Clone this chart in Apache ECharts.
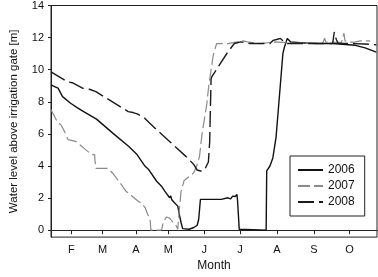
<!DOCTYPE html>
<html>
<head>
<meta charset="utf-8">
<script src="https://cdn.jsdelivr.net/npm/echarts@6/dist/echarts.min.js"></script>
<style>
  html, body { margin: 0; padding: 0; background: #fff; }
  #chart { width: 378px; height: 277px; }
</style>
</head>
<body>
<div id="chart"></div>
<script>
// x is day of year, y is water level [m]
const monthTickDays = [46, 73, 102, 130, 161, 192, 224, 256, 287];
const monthTickLabels = ["F", "M", "A", "M", "J", "J", "A", "S", "O"];
const levelTicks = [0, 2, 4, 6, 8, 10, 12, 14];

const level2006 = [
  [28.4, 9.05], [31.5, 8.95], [32.5, 9.0], [34.5, 8.85], [38.4, 8.32], [45.4, 7.91],
  [51.0, 7.64], [56.7, 7.39], [67.8, 6.92], [81.9, 6.05], [95.8, 5.22], [102.9, 4.71],
  [109.9, 3.98], [111.5, 3.88], [113.0, 3.78], [113.5, 3.9], [114.2, 3.7], [119.9, 3.05],
  [124.1, 2.74], [125.6, 2.85], [126.9, 2.43], [131.1, 2.02], [132.0, 2.15], [133.0, 1.9],
  [135.3, 1.71], [138.2, 1.5], [139.5, 0.99], [141.0, 0.48], [142.4, 0.1], [148.0, 0.06],
  [152.1, 0.17], [155.0, 0.31], [156.3, 0.68], [157.8, 1.92], [159.2, 1.96], [176.0, 1.92],
  [181.5, 2.02], [184.0, 1.95], [185.7, 2.12], [187.2, 2.23], [188.0, 2.1], [189.4, 2.23],
  [189.9, 1.9], [191.4, 0.06], [214.7, 0.0], [215.2, 3.7], [218.0, 4.0], [220.5, 4.5],
  [223.3, 5.8], [225.0, 7.3], [227.5, 9.5], [229.2, 11.0], [230.5, 11.4], [233.0, 11.95],
  [236.0, 11.73], [244.3, 11.68], [258.3, 11.63], [272.3, 11.63], [291.9, 11.52],
  [300.4, 11.36], [310.1, 11.1]
];

const level2007 = [
  [28.4, 7.5], [34.5, 6.67], [37.0, 6.57], [40.1, 6.15], [41.2, 6.2], [43.2, 5.64],
  [44.3, 5.6], [49.9, 5.53], [58.4, 5.02], [63.6, 4.71], [66.2, 4.71], [66.4, 4.4],
  [67.3, 3.85], [77.8, 3.85], [82.5, 3.5], [90.3, 2.74], [93.3, 2.43], [98.7, 2.12],
  [103.1, 1.85], [107.1, 1.65], [109.9, 1.41], [111.5, 1.1], [113.0, 0.85], [114.3, 0.6],
  [114.9, 0.0], [124.1, 0.0], [125.6, 0.5], [128.3, 0.82], [131.1, 0.75], [134.0, 0.5],
  [136.8, 0.27], [138.2, 0.06], [139.5, 1.3], [141.0, 2.4], [143.7, 3.1], [149.4, 3.4],
  [152.1, 3.6], [155.0, 4.1], [157.0, 4.6], [159.2, 6.0], [163.4, 7.9], [165.0, 9.0],
  [168.9, 10.9], [171.8, 11.63], [181.5, 11.63], [189.9, 11.73], [192.8, 11.83],
  [198.4, 11.73], [209.6, 11.63], [222.2, 11.73], [240.0, 11.65], [260.0, 11.65],
  [264.0, 11.7], [265.3, 11.96], [266.5, 11.7], [280.0, 11.7], [282.1, 12.27], [283.0, 11.8],
  [290.0, 11.7], [296.4, 11.8], [304.8, 11.8]
];

const level2008 = [
  [28.4, 9.87], [42.6, 9.25], [46.8, 9.19], [56.1, 8.84], [61.7, 8.78], [67.3, 8.63],
  [81.3, 8.01], [95.3, 7.39], [99.5, 7.33], [103.1, 7.25], [109.5, 6.98], [119.9, 6.26],
  [131.1, 5.53], [145.2, 4.6], [152.1, 4.09], [155.0, 3.75], [159.0, 3.67], [162.0, 3.85],
  [164.7, 4.25], [165.8, 5.5], [167.0, 9.4], [167.6, 9.56], [170.4, 9.87], [181.5, 11.1],
  [187.2, 11.63], [192.8, 11.73], [201.2, 11.63], [218.0, 11.63], [220.8, 11.83],
  [224.5, 11.9], [227.0, 11.95], [230.3, 11.73], [233.0, 11.63], [272.3, 11.63],
  [273.7, 12.35], [275.4, 11.9], [277.0, 11.65], [300.0, 11.6], [310.1, 11.55]
];

const font = "Liberation Sans, Arial, sans-serif";
const chart = echarts.init(document.getElementById("chart"), null, { renderer: "canvas" });

const lineSeries = (name, data, color, width, dash) => ({
  name,
  type: "line",
  data,
  symbol: "none",
  showSymbol: false,
  animation: false,
  lineStyle: { color, width, type: dash },
  itemStyle: { color }
});

chart.setOption({
  backgroundColor: "#fff",
  animation: false,
  grid: {
    left: 41, right: 1, top: 5, bottom: 39,
    show: true, borderColor: "#222", borderWidth: 1
  },
  legend: {
    orient: "vertical",
    left: 290,
    top: 156,
    padding: [8, 10, 8, 7],
    itemWidth: 25,
    itemHeight: 10,
    itemGap: 4,
    borderColor: "#222",
    borderWidth: 1,
    itemStyle: { opacity: 0 },
    textStyle: { fontFamily: font, fontSize: 12, color: "#111" },
    data: ["2006", "2007", "2008"]
  },
  xAxis: {
    type: "value",
    min: 28.4,
    max: 310.7,
    name: "Month",
    nameLocation: "middle",
    nameGap: 16,
    nameTextStyle: { fontFamily: font, fontSize: 12, color: "#111" },
    splitLine: { show: false },
    axisLine: { lineStyle: { color: "#222", width: 1 } },
    axisTick: { length: 4, customValues: monthTickDays, lineStyle: { color: "#222" } },
    axisLabel: {
      customValues: monthTickDays,
      margin: 7,
      fontFamily: font, fontSize: 11, color: "#111",
      formatter: (v) => monthTickLabels[monthTickDays.indexOf(v)] || ""
    }
  },
  yAxis: {
    type: "value",
    min: -0.43,
    max: 14,
    name: "Water level above irrigation gate [m]",
    nameLocation: "middle",
    nameRotate: 90,
    nameGap: 31,
    nameTextStyle: { fontFamily: font, fontSize: 11.5, color: "#111" },
    splitLine: { show: false },
    axisLine: { show: true, lineStyle: { color: "#222", width: 1 } },
    axisTick: { show: true, length: 3, customValues: levelTicks, lineStyle: { color: "#222" } },
    axisLabel: {
      customValues: levelTicks,
      margin: 7,
      fontFamily: font, fontSize: 11, color: "#111"
    }
  },
  series: [
    lineSeries("2006", level2006, "#111", 1.4, "solid"),
    lineSeries("2007", level2007, "#8a8a8a", 1.2, [12, 4]),
    lineSeries("2008", level2008, "#1a1a1a", 1.4, [16, 5])
  ]
});
</script>
</body>
</html>
